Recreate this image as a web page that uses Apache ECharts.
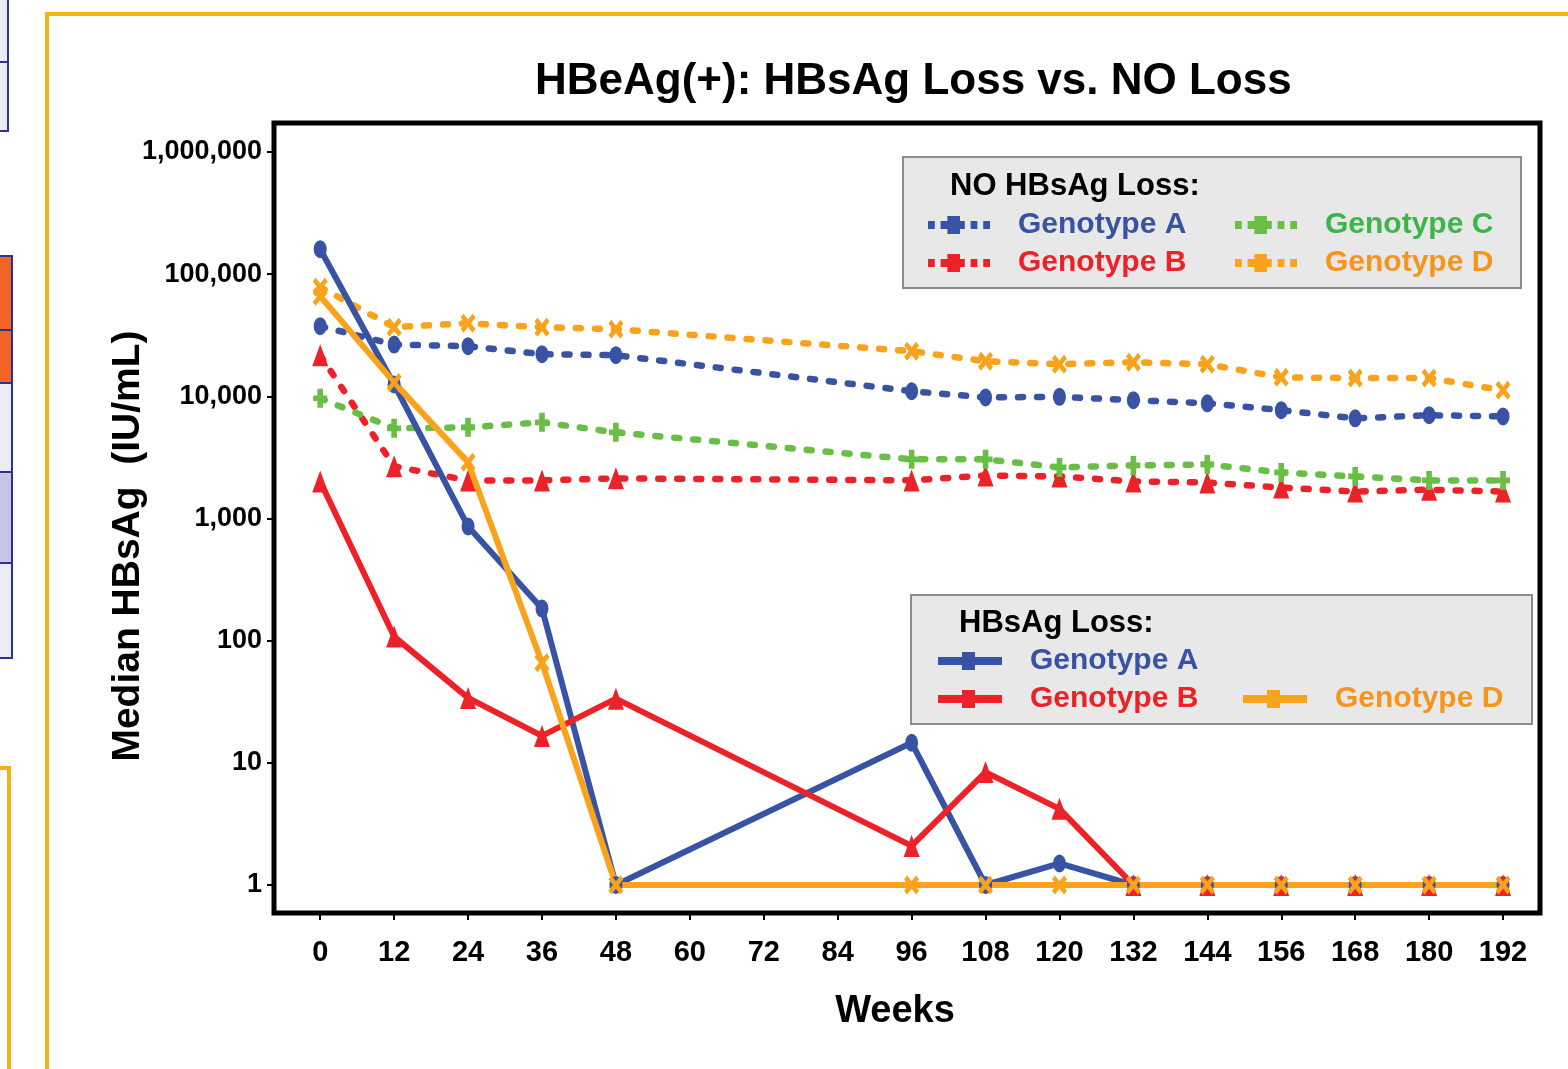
<!DOCTYPE html>
<html>
<head>
<meta charset="utf-8">
<style>html,body{margin:0;padding:0;background:#fff;}#c{width:1568px;height:1069px;}</style>
<script src="https://cdn.jsdelivr.net/npm/echarts@6/dist/echarts.min.js"></script>
</head>
<body>
<div id="c"></div>
<script>
// ---- data ----
const weeks = [0, 12, 24, 36, 48, 96, 108, 120, 132, 144, 156, 168, 180, 192];
const xTicks = [0, 12, 24, 36, 48, 60, 72, 84, 96, 108, 120, 132, 144, 156, 168, 180, 192];
const yTicks = [1, 10, 100, 1000, 10000, 100000, 1000000];

const noLossA = [37500, 26500, 25700, 22100, 21700, 11000, 9800, 9900, 9300, 8770, 7700, 6600, 7000, 6850];
const noLossB = [21700, 2670, 2050, 2050, 2130, 2050, 2250, 2210, 2010, 1970, 1790, 1660, 1720, 1660];
const noLossC = [9640, 5470, 5570, 6120, 5070, 3050, 3050, 2620, 2720, 2770, 2380, 2210, 2050, 2050];
const noLossD = [78200, 36800, 39600, 36800, 35400, 23400, 19400, 18300, 19000, 18300, 14300, 14100, 14100, 11200];
const lossA = [160000, 12500, 860, 183, 1, 14.6, 1, 1.5, 1, 1, 1, 1, 1, 1];
const lossB = [2010, 108, 34, 16.6, 33.5, 2.09, 8.4, 4.2, 1, 1, 1, 1, 1, 1];
const lossD = [66000, 13000, 2880, 66, 1, 1, 1, 1, 1, 1, 1, 1, 1, 1];

const names = {
  noA: 'NO HBsAg Loss: Genotype A', noB: 'NO HBsAg Loss: Genotype B',
  noC: 'NO HBsAg Loss: Genotype C', noD: 'NO HBsAg Loss: Genotype D',
  lA: 'HBsAg Loss: Genotype A', lB: 'HBsAg Loss: Genotype B', lD: 'HBsAg Loss: Genotype D'
};

const BLUE = '#3953A4', RED = '#ED2228', GREEN = '#6ABD45', ORANGE = '#F8A31B';
const GREEN_T = '#3DB54A', ORANGE_T = '#F7941D';
const FONT = '"Liberation Sans", Arial, Helvetica, sans-serif';

const pairs = (vals) => weeks.map((w, i) => [w, vals[i]]);

const SYM_X = 'path://M0,2 L2,0 L5,3 L8,0 L10,2 L7,5 L10,8 L8,10 L5,7 L2,10 L0,8 L3,5 Z';
const SYM_PLUS = 'path://M3,0H7V3.5H10V6.5H7V10H3V6.5H0V3.5H3Z';
const ICON_DASH = 'path://M0,5H7V13H0Z M13,5H20V13H13Z M20,0H33V18H20Z M33,5H38V13H33Z M44,5H51V13H44Z M57,5H64V13H57Z';
const ICON_SOLID = 'path://M0,5H24V0H37V5H64V13H37V18H24V13H0Z';

function dotted(name, vals, color, symbol, size) {
  return {
    name, type: 'line', data: pairs(vals), symbol, symbolSize: size,
    itemStyle: { color }, lineStyle: { color, width: 6.5, type: [5, 14], cap: 'round' },
    z: 2, emphasis: { disabled: true }
  };
}
function solid(name, vals, color, symbol, size) {
  return {
    name, type: 'line', data: pairs(vals), symbol, symbolSize: size,
    itemStyle: { color }, lineStyle: { color, width: 6 },
    z: 3, emphasis: { disabled: true }
  };
}

function leg(name, icon, w, left, cy, textColor) {
  return {
    data: [{ name, icon }], left, top: cy - 17, padding: 0, itemWidth: w, itemHeight: 18,
    selectedMode: false, symbolKeepAspect: false,
    formatter: (n) => n.split(': ')[1],
    textStyle: { color: textColor, fontFamily: FONT, fontWeight: 'bold', fontSize: 30, lineHeight: 34, padding: [0, 0, 0, 23] }
  };
}

const chart = echarts.init(document.getElementById('c'), null, { renderer: 'canvas' });
chart.setOption({
  animation: false,
  backgroundColor: '#fff',
  title: {
    text: 'HBeAg(+): HBsAg Loss vs. NO Loss', left: 530, top: 55,
    textStyle: { fontFamily: FONT, fontWeight: 'bold', fontSize: 44, color: '#000' }
  },
  grid: { left: 274, top: 123, right: 28, bottom: 156, show: true, borderColor: '#000', borderWidth: 5, backgroundColor: 'transparent' },
  xAxis: {
    type: 'value', min: -7.5, max: 198,
    name: 'Weeks', nameLocation: 'middle', nameGap: 80,
    nameTextStyle: { fontFamily: FONT, fontWeight: 'bold', fontSize: 38, color: '#000', padding: [0, 24, 0, 0] },
    axisLine: { show: false, onZero: false },
    axisTick: { show: true, customValues: xTicks, length: 7, lineStyle: { color: '#000', width: 2 } },
    axisLabel: { customValues: xTicks, margin: 25, fontFamily: FONT, fontWeight: 'bold', fontSize: 29, color: '#000' },
    splitLine: { show: false }
  },
  yAxis: {
    type: 'log', logBase: 10, min: 0.59, max: 1726000,
    name: 'Median HBsAg  (IU/mL)', nameLocation: 'middle', nameGap: 126, nameRotate: 90, nameMoveOverlap: false,
    nameTextStyle: { fontFamily: FONT, fontWeight: 'bold', fontSize: 39, color: '#000', padding: [0, 56, 0, 0] },
    axisLine: { show: false, onZero: false },
    axisTick: { show: true, customValues: yTicks, length: 7, lineStyle: { color: '#000', width: 2 } },
    axisLabel: { customValues: yTicks, margin: 12, fontFamily: FONT, fontWeight: 'bold', fontSize: 27, color: '#000',
      formatter: (v) => Math.round(v).toLocaleString('en-US') },
    splitLine: { show: false }
  },
  legend: [
    leg(names.noA, ICON_DASH, 62, 928, 225, BLUE),
    leg(names.noB, ICON_DASH, 62, 928, 263, RED),
    leg(names.noC, ICON_DASH, 62, 1235, 225, GREEN_T),
    leg(names.noD, ICON_DASH, 62, 1235, 263, ORANGE_T),
    leg(names.lA, ICON_SOLID, 64, 938, 661, BLUE),
    leg(names.lB, ICON_SOLID, 64, 938, 699, RED),
    leg(names.lD, ICON_SOLID, 64, 1243, 699, ORANGE_T)
  ],
  graphic: [
    // page decorations on the left
    { type: 'rect', shape: { x: -2, y: -2, width: 10, height: 64 }, style: { fill: '#ECEBF6', stroke: '#2E3192', lineWidth: 2 } },
    { type: 'rect', shape: { x: -2, y: 62, width: 10, height: 69 }, style: { fill: '#ECEBF6', stroke: '#2E3192', lineWidth: 2 } },
    { type: 'rect', shape: { x: -2, y: 256, width: 14, height: 74 }, style: { fill: '#F26522', stroke: '#2E3192', lineWidth: 2 } },
    { type: 'rect', shape: { x: -2, y: 330, width: 14, height: 53 }, style: { fill: '#F26522', stroke: '#2E3192', lineWidth: 2 } },
    { type: 'rect', shape: { x: -2, y: 383, width: 14, height: 89 }, style: { fill: '#ECEBF6', stroke: '#2E3192', lineWidth: 2 } },
    { type: 'rect', shape: { x: -2, y: 472, width: 14, height: 91 }, style: { fill: '#C6C5E2', stroke: '#2E3192', lineWidth: 2 } },
    { type: 'rect', shape: { x: -2, y: 563, width: 14, height: 95 }, style: { fill: '#ECEBF6', stroke: '#2E3192', lineWidth: 2 } },
    { type: 'polyline', shape: { points: [[-2, 768], [9, 768], [9, 1075]] }, style: { fill: null, stroke: '#EEB418', lineWidth: 4 } },
    { type: 'polyline', shape: { points: [[47, 1075], [47, 14], [1575, 14]] }, style: { fill: null, stroke: '#EEB418', lineWidth: 4 } },
    // legend boxes
    { type: 'rect', z: 1, shape: { x: 903, y: 157, width: 618, height: 131 }, style: { fill: '#E8E8E8', stroke: '#8C8C8C', lineWidth: 2 } },
    { type: 'text', z: 2, x: 950, y: 186, style: { text: 'NO HBsAg Loss:', fontFamily: FONT, fontWeight: 'bold', fontSize: 31, fill: '#000', verticalAlign: 'middle' } },
    { type: 'rect', z: 1, shape: { x: 911, y: 595, width: 621, height: 129 }, style: { fill: '#E8E8E8', stroke: '#8C8C8C', lineWidth: 2 } },
    { type: 'text', z: 2, x: 959, y: 623, style: { text: 'HBsAg Loss:', fontFamily: FONT, fontWeight: 'bold', fontSize: 31, fill: '#000', verticalAlign: 'middle' } }
  ],
  series: [
    dotted(names.noA, noLossA, BLUE, 'circle', [13, 18]),
    dotted(names.noB, noLossB, RED, 'triangle', [16, 22]),
    dotted(names.noC, noLossC, GREEN, SYM_PLUS, [14, 19]),
    dotted(names.noD, noLossD, ORANGE, SYM_X, [15, 19]),
    solid(names.lA, lossA, BLUE, 'circle', [13, 18]),
    solid(names.lB, lossB, RED, 'triangle', [16, 22]),
    solid(names.lD, lossD, ORANGE, SYM_X, [15, 19])
  ]
});
</script>
</body>
</html>
